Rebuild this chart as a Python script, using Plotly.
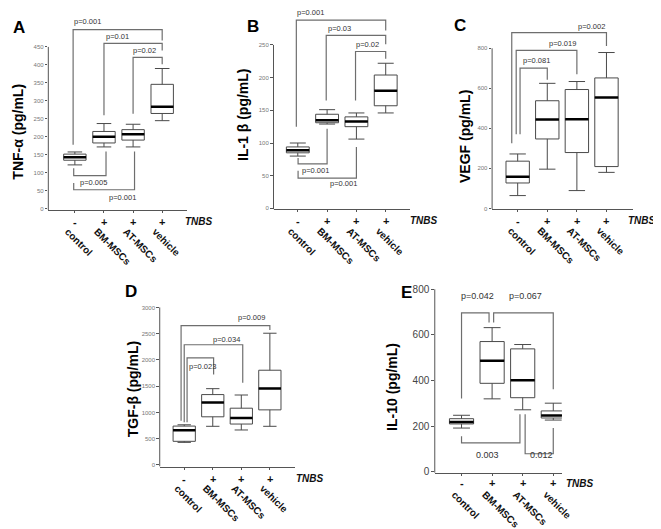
import plotly.graph_objects as go

W, H = 661, 529
FONT = "Liberation Sans, Arial, sans-serif"

categories = ["control", "BM-MSCs", "AT-MSCs", "vehicle"]
tnbs_signs = ["-", "+", "+", "+"]

# ---- Panel A: TNF-alpha ----
tnf_low = [122, 172, 172, 245]
tnf_q1 = [135, 183, 191, 265]
tnf_med = [143, 200, 207, 284]
tnf_q3 = [152, 215, 220, 346]
tnf_high = [158, 237, 235, 390]
tnf_ticks = [0, 50, 100, 150, 200, 250, 300, 350, 400, 450]
# brackets: (x_left, y_left_end, x_right, y_right_end, y_horizontal)
tnf_brackets = [(-0.06, 178, 3.0, 468, 498), (1.0, 260, 3.0, 440, 460),
                (2.0, 264, 3.0, 402, 421), (-0.04, 113, 1.07, 159, 92),
                (-0.04, 72, 2.05, 159, 53)]
tnf_labels = [("p=0.001", 0.44, 520), ("p=0.01", 1.45, 478), ("p=0.02", 2.38, 440),
              ("p=0.005", 0.63, 73), ("p=0.001", 1.62, 32)]

# ---- Panel B: IL-1 beta ----
il1_low = [80, 129, 106, 146]
il1_q1 = [85, 131, 125, 157]
il1_med = [89, 135, 133, 180]
il1_q3 = [94, 144, 140, 204]
il1_high = [100, 151, 146, 222]
il1_ticks = [0, 50, 100, 150, 200, 250]
il1_brackets = [(-0.05, 125, 3.0, 272, 288), (0.97, 165, 3.0, 251, 264.6),
                (1.97, 165, 3.0, 229, 240), (0.01, 77, 1.0, 122, 68),
                (0.01, 57.6, 2.0, 94, 46.4)]
il1_labels = [("p=0.001", 0.44, 299), ("p=0.03", 1.41, 275), ("p=0.02", 2.38, 251),
              ("p=0.001", 0.62, 58), ("p=0.001", 1.56, 38.8)]

# ---- Panel C: VEGF ----
vegf_low = [64, 196, 89, 180]
vegf_q1 = [127, 347, 279, 209]
vegf_med = [158, 444, 445, 554]
vegf_q3 = [236, 538, 594, 652]
vegf_high = [272, 625, 634, 779]
vegf_ticks = [0, 200, 400, 600, 800]
vegf_brackets = [(0.08, 371, 1.0, 643, 701), (-0.05, 371, 2.0, 671, 790),
                 (-0.2, 325, 3.0, 812, 878)]
vegf_labels = [("p=0.081", 0.65, 737), ("p=0.019", 1.52, 823), ("p=0.002", 2.51, 910)]

# ---- Panel D: TGF-beta ----
tgf_low = [430, 736, 666, 736]
tgf_q1 = [450, 917, 779, 1049]
tgf_med = [660, 1189, 892, 1458]
tgf_q3 = [740, 1340, 1081, 1804]
tgf_high = [765, 1453, 1332, 2509]
tgf_ticks = [0, 500, 1000, 1500, 2000, 2500, 3000]
tgf_brackets = [(0.1, 811, 1.03, 1723, 2038), (0.0, 811, 2.05, 1566, 2289),
                (-0.11, 842, 3.0, 2572, 2653)]
tgf_labels = [("p=0.023", 0.65, 1879), ("p=0.034", 1.47, 2396), ("p=0.009", 2.34, 2804)]

# ---- Panel E: IL-10 ----
il10_low = [192, 320, 272, 227]
il10_q1 = [210, 388, 325, 236]
il10_med = [218, 487, 401, 247]
il10_q3 = [233, 571, 539, 267]
il10_high = [248, 632, 558, 301]
il10_ticks = [0, 200, 400, 600, 800]
il10_brackets = [(0.0, 321, 0.9, 654, 697), (1.05, 654, 3.0, 362, 697),
                 (0.0, 156, 1.91, 253, 127), (2.08, 253, 3.0, 192, 79.5)]
il10_labels = [("p=0.042", 0.51, 770), ("p=0.067", 2.09, 770),
               ("0.003", 0.86, 76), ("0.012", 2.61, 76)]

panels = [
    dict(letter="A", title="TNF-α (pg/mL)", low=tnf_low, q1=tnf_q1, med=tnf_med, q3=tnf_q3,
         high=tnf_high, ticks=tnf_ticks, brackets=tnf_brackets, labels=tnf_labels,
         yax_px=41, cat0=68, sp=29.6, xend=181.7, y0=202.7, k=0.3631, lo=-3.6, hi=545,
         letter_xy=(11, 20), title_xy=(10, 125), tnbs_xy=(178, 216), sign_y=216,
         tickfs=6, lblfs=7.5, boxw=0.77, capw=0.65),
    dict(letter="B", title="IL-1 β (pg/mL)", low=il1_low, q1=il1_q1, med=il1_med, q3=il1_q3,
         high=il1_high, ticks=il1_ticks, brackets=il1_brackets, labels=il1_labels,
         yax_px=270, cat0=294.7, sp=29.8, xend=409.3, y0=202.3, k=0.66, lo=-1.5, hi=305,
         letter_xy=(249, 19), title_xy=(239, 108), tnbs_xy=(406.7, 215), sign_y=215,
         tickfs=6, lblfs=7.5, boxw=0.78, capw=0.7),
    dict(letter="C", title="VEGF (pg/mL)", low=vegf_low, q1=vegf_q1, med=vegf_med, q3=vegf_q3,
         high=vegf_high, ticks=vegf_ticks, brackets=vegf_brackets, labels=vegf_labels,
         yax_px=492.3, cat0=518.3, sp=30.1, xend=636, y0=202.3, k=0.202, lo=-3, hi=960,
         letter_xy=(460, 18), title_xy=(465, 130), tnbs_xy=(628, 215), sign_y=215,
         tickfs=6, lblfs=7.5, boxw=0.79, capw=0.7),
    dict(letter="D", title="TGF-β (pg/mL)", low=tgf_low, q1=tgf_q1, med=tgf_med, q3=tgf_q3,
         high=tgf_high, ticks=tgf_ticks, brackets=tgf_brackets, labels=tgf_labels,
         yax_px=154.3, cat0=179.2, sp=29.03, xend=291.7, y0=461.3, k=0.053, lo=-32, hi=3100,
         letter_xy=(125, 286), title_xy=(127, 385), tnbs_xy=(290.7, 475), sign_y=475,
         tickfs=6, lblfs=7.5, boxw=0.78, capw=0.6),
    dict(letter="E", title="IL-10 (pg/mL)", low=il10_low, q1=il10_q1, med=il10_med, q3=il10_q3,
         high=il10_high, ticks=il10_ticks, brackets=il10_brackets, labels=il10_labels,
         yax_px=434, cat0=461.2, sp=31.1, xend=563.3, y0=468.3, k=0.2304, lo=-4.3, hi=850,
         letter_xy=(405, 287), title_xy=(391, 382), tnbs_xy=(565, 480), sign_y=480,
         tickfs=10, lblfs=9, boxw=0.79, capw=0.7),
]

fig = go.Figure()
annotations = []
shapes = []
layout = {}

BOX_LINE = "#4a4a4a"
BRACKET = "#6e6e6e"

for n, p in enumerate(panels, start=1):
    sfx = "" if n == 1 else str(n)
    xa, ya = "x" + sfx, "y" + sfx
    xmin = -(p["cat0"] - p["yax_px"]) / p["sp"]
    xmax = (p["xend"] - p["cat0"]) / p["sp"]
    dom_x = [p["yax_px"] / W, p["xend"] / W]
    bot_px = p["y0"] - p["lo"] * p["k"]
    top_px = p["y0"] - p["hi"] * p["k"]
    dom_y = [1 - bot_px / H, 1 - top_px / H]

    layout["xaxis" + sfx] = dict(
        domain=dom_x, range=[xmin, xmax], anchor=ya, showgrid=False, zeroline=False,
        showline=True, linecolor="#555", linewidth=1, ticks="outside", ticklen=2,
        tickcolor="#555", tickvals=[0, 1, 2, 3], ticktext=categories, tickangle=45,
        ticklabelstandoff=9, ticklabelshift=-7,
        tickfont=dict(family=FONT, size=10, color="#111", weight="bold"))
    layout["yaxis" + sfx] = dict(
        domain=dom_y, range=[p["lo"], p["hi"]], anchor=xa, showgrid=False, zeroline=False,
        showline=False, ticks="outside", ticklen=2.5, tickcolor="#555", tickvals=p["ticks"],
        tickfont=dict(family=FONT, size=p["tickfs"], color="#777" if p["tickfs"] < 8 else "#444"))

    # y axis line limited to tick range
    shapes.append(dict(type="line", xref=xa + " domain", yref=ya, x0=0, x1=0,
                       y0=p["lo"], y1=p["ticks"][-1], line=dict(color="#555", width=1)))

    for i in range(4):
        fig.add_trace(go.Box(
            x=[i], q1=[p["q1"][i]], median=[p["med"][i]], q3=[p["q3"][i]],
            lowerfence=[p["low"][i]], upperfence=[p["high"][i]], width=p["boxw"],
            whiskerwidth=p["capw"], line=dict(color=BOX_LINE, width=1), fillcolor="white",
            boxpoints=False, hoverinfo="skip", xaxis=xa, yaxis=ya, showlegend=False))
        hw = p["boxw"] / 2
        fig.add_trace(go.Scatter(
            x=[i - hw, i + hw], y=[p["med"][i], p["med"][i]], mode="lines",
            line=dict(color="black", width=2.5), hoverinfo="skip", xaxis=xa, yaxis=ya,
            showlegend=False))

    for (xl, yl, xr, yr, yh) in p["brackets"]:
        fig.add_trace(go.Scatter(
            x=[xl, xl, xr, xr], y=[yl, yh, yh, yr], mode="lines",
            line=dict(color=BRACKET, width=1.2), hoverinfo="skip", xaxis=xa, yaxis=ya,
            showlegend=False))
    for (txt, tx, ty) in p["labels"]:
        annotations.append(dict(text=txt, x=tx, y=ty, xref=xa, yref=ya, showarrow=False,
                                font=dict(family=FONT, size=p["lblfs"], color="#333")))

    # TNBS +/- row
    for i, s in enumerate(tnbs_signs):
        annotations.append(dict(text=s, x=i, xref=xa, y=1 - p["sign_y"] / H, yref="paper",
                                showarrow=False, xanchor="center", yanchor="middle",
                                font=dict(family=FONT, size=11, color="#111", weight="bold")))
    tx, ty = p["tnbs_xy"]
    annotations.append(dict(text="<i>TNBS</i>", x=tx / W, y=1 - ty / H, xref="paper",
                            yref="paper", showarrow=False, xanchor="left", yanchor="middle",
                            font=dict(family=FONT, size=10, color="#111", weight="bold")))
    lx, ly = p["letter_xy"]
    annotations.append(dict(text=p["letter"], x=lx / W, y=1 - ly / H, xref="paper",
                            yref="paper", showarrow=False, xanchor="center", yanchor="middle",
                            font=dict(family=FONT, size=17, color="#000", weight="bold")))
    ttx, tty = p["title_xy"]
    annotations.append(dict(text=p["title"], x=ttx / W, y=1 - tty / H, xref="paper",
                            yref="paper", showarrow=False, textangle=-90, xanchor="center",
                            yanchor="middle",
                            font=dict(family=FONT, size=14, color="#000", weight="bold")))

fig.update_layout(
    width=W, height=H, margin=dict(l=0, r=0, t=0, b=0),
    paper_bgcolor="white", plot_bgcolor="rgba(0,0,0,0)", showlegend=False,
    annotations=annotations, shapes=shapes, boxmode="overlay", **layout)

fig.write_html("out.html")
